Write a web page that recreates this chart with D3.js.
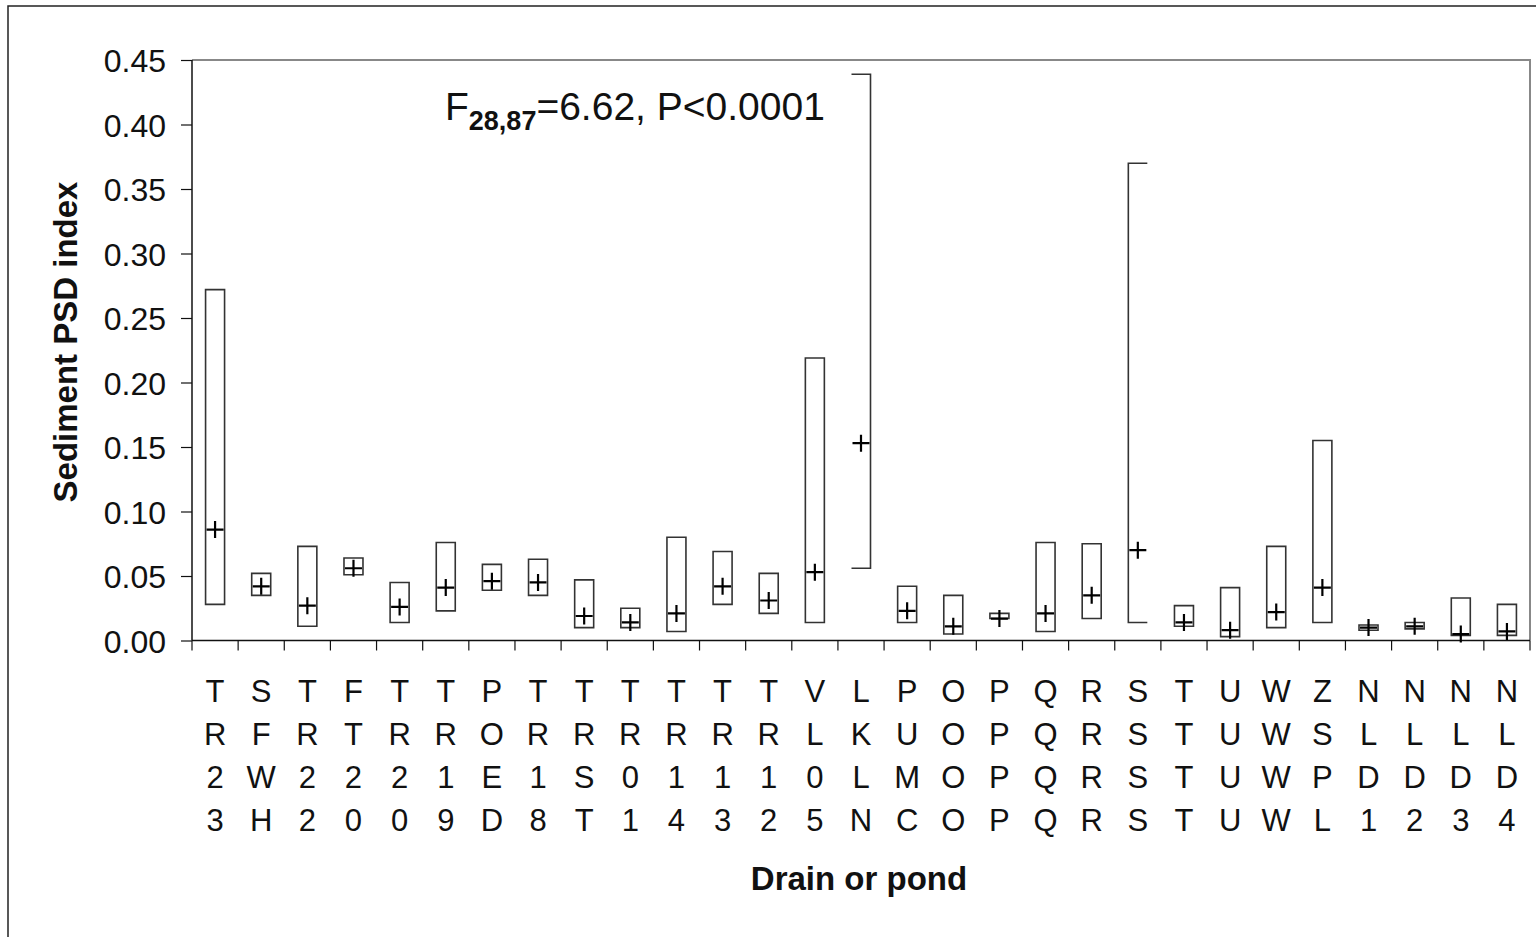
<!DOCTYPE html>
<html>
<head>
<meta charset="utf-8">
<script src="https://cdn.jsdelivr.net/npm/d3@7"></script>
<style>
  body { margin: 0; background: #fff; }
  svg { display: block; font-family: "Liberation Sans", Arial, sans-serif; }
</style>
</head>
<body>
<svg id="chart" width="1536" height="937"></svg>
<script>
// drain / pond codes, each printed as a 4-letter stack under the axis
var sites = ["TR23", "SFWH", "TR22", "FT20", "TR20", "TR19", "POED", "TR18", "TRST", "TR01",
             "TR14", "TR13", "TR12", "VL05", "LKLN", "PUMC", "OOOO", "PPPP", "QQQQ", "RRRR",
             "SSSS", "TTTT", "UUUU", "WWWW", "ZSPL", "NLD1", "NLD2", "NLD3", "NLD4"];

// box top, box bottom and mean (+) for each site
var boxHigh = [0.272, 0.052, 0.073, 0.064, 0.045, 0.076, 0.059, 0.063, 0.047, 0.025,
               0.080, 0.069, 0.052, 0.219, 0.439, 0.042, 0.035, 0.021, 0.076, 0.075,
               0.370, 0.027, 0.041, 0.073, 0.155, 0.012, 0.014, 0.033, 0.028];
var boxLow  = [0.028, 0.035, 0.011, 0.051, 0.014, 0.023, 0.039, 0.035, 0.010, 0.010,
               0.007, 0.028, 0.021, 0.014, 0.056, 0.014, 0.005, 0.017, 0.007, 0.017,
               0.014, 0.011, 0.003, 0.010, 0.014, 0.008, 0.009, 0.004, 0.004];
var means   = [0.086, 0.042, 0.027, 0.056, 0.026, 0.041, 0.046, 0.045, 0.019, 0.014,
               0.021, 0.042, 0.031, 0.053, 0.153, 0.023, 0.011, 0.017, 0.021, 0.035,
               0.070, 0.014, 0.008, 0.022, 0.041, 0.010, 0.011, 0.005, 0.007];

var yTicks = [0, 0.05, 0.10, 0.15, 0.20, 0.25, 0.30, 0.35, 0.40, 0.45];

// two boxes are drawn as brackets in the original
var openSide = {LKLN: "left", SSSS: "right"};

var svg = d3.select("#chart"),
    plotLeft = 192, plotRight = 1530, plotTop = 60, plotBottom = 640.5;

var data = sites.map(function(s, i) {
  return {site: s, hi: boxHigh[i], lo: boxLow[i], mean: means[i]};
});

var x = d3.scaleBand().domain(sites).range([plotLeft, plotRight]);
var y = d3.scaleLinear().domain([0, 0.45]).range([plotBottom, plotTop]);

// outer figure frame
svg.append("rect")
    .attr("x", 8).attr("y", 6).attr("width", 1560).attr("height", 960)
    .attr("fill", "none").attr("stroke", "#222").attr("stroke-width", 1.5);

// plot frame (top and right)
svg.append("path")
    .attr("d", "M" + plotLeft + "," + plotTop + "H" + plotRight + "V" + plotBottom)
    .attr("fill", "none").attr("stroke", "#888").attr("stroke-width", 2);

// y axis
var yAxis = svg.append("g")
    .attr("transform", "translate(" + plotLeft + ",0)")
    .call(d3.axisLeft(y).tickValues(yTicks).tickFormat(d3.format(".2f")).tickSize(11).tickPadding(15));
yAxis.select(".domain").attr("stroke", "#111").attr("stroke-width", 1.5)
    .attr("d", "M0," + plotTop + "V" + plotBottom);
yAxis.selectAll(".tick line").attr("stroke", "#111").attr("stroke-width", 1.2);
yAxis.selectAll(".tick text")
    .attr("font-size", 32).attr("fill", "#111")
    .attr("font-family", "Liberation Sans, Arial, sans-serif")
    .attr("dy", "0.36em");

// x axis line and tick marks between categories
svg.append("line")
    .attr("x1", plotLeft).attr("x2", plotRight).attr("y1", plotBottom).attr("y2", plotBottom)
    .attr("stroke", "#111").attr("stroke-width", 1.5);
var edges = sites.map(function(s) { return x(s); }).concat([plotRight]);
svg.append("g").selectAll("line").data(edges).enter().append("line")
    .attr("x1", function(d) { return d; }).attr("x2", function(d) { return d; })
    .attr("y1", plotBottom).attr("y2", plotBottom + 10)
    .attr("stroke", "#111").attr("stroke-width", 1.2);

// stacked category labels
var labels = svg.append("g").selectAll("g").data(sites).enter().append("g")
    .attr("transform", function(d) { return "translate(" + (x(d) + x.bandwidth() / 2) + ",0)"; });
labels.selectAll("text").data(function(d) { return d.split(""); }).enter().append("text")
    .attr("y", function(d, i) { return 702 + i * 43; })
    .attr("text-anchor", "middle")
    .attr("font-size", 31).attr("fill", "#111")
    .text(function(d) { return d; });

// boxes
var bw = 19;
svg.append("g").selectAll("path").data(data).enter().append("path")
    .attr("fill", "none").attr("stroke", "#333").attr("stroke-width", 1.6)
    .attr("d", function(d) {
      var cx = x(d.site) + x.bandwidth() / 2,
          x0 = cx - bw / 2, x1 = cx + bw / 2,
          y0 = y(d.hi), y1 = y(d.lo),
          p = d3.path();
      if (openSide[d.site] === "left") {
        p.moveTo(x0, y0); p.lineTo(x1, y0); p.lineTo(x1, y1); p.lineTo(x0, y1);
      } else if (openSide[d.site] === "right") {
        p.moveTo(x1, y0); p.lineTo(x0, y0); p.lineTo(x0, y1); p.lineTo(x1, y1);
      } else {
        p.rect(x0, y0, bw, y1 - y0);
      }
      return p.toString();
    });

// mean markers
var pm = 8.5;
svg.append("g").selectAll("path").data(data).enter().append("path")
    .attr("fill", "none").attr("stroke", "#000").attr("stroke-width", 2.2)
    .attr("d", function(d) {
      var cx = x(d.site) + x.bandwidth() / 2, cy = y(d.mean);
      return "M" + (cx - pm) + "," + cy + "H" + (cx + pm) + "M" + cx + "," + (cy - pm) + "V" + (cy + pm);
    });

// statistics note
var note = svg.append("text").attr("x", 445).attr("y", 120).attr("font-size", 39).attr("fill", "#111");
note.append("tspan").text("F");
note.append("tspan").attr("font-size", 27).attr("font-weight", "bold").attr("dy", 10).text("28,87");
note.append("tspan").attr("dy", -10).text("=6.62, P<0.0001");

// axis titles
svg.append("text")
    .attr("x", 859).attr("y", 890)
    .attr("text-anchor", "middle").attr("font-size", 33).attr("font-weight", "bold").attr("fill", "#111")
    .text("Drain or pond");

svg.append("text")
    .attr("transform", "translate(77,342) rotate(-90)")
    .attr("text-anchor", "middle").attr("font-size", 33).attr("font-weight", "bold").attr("fill", "#111")
    .text("Sediment PSD index");
</script>
</body>
</html>
